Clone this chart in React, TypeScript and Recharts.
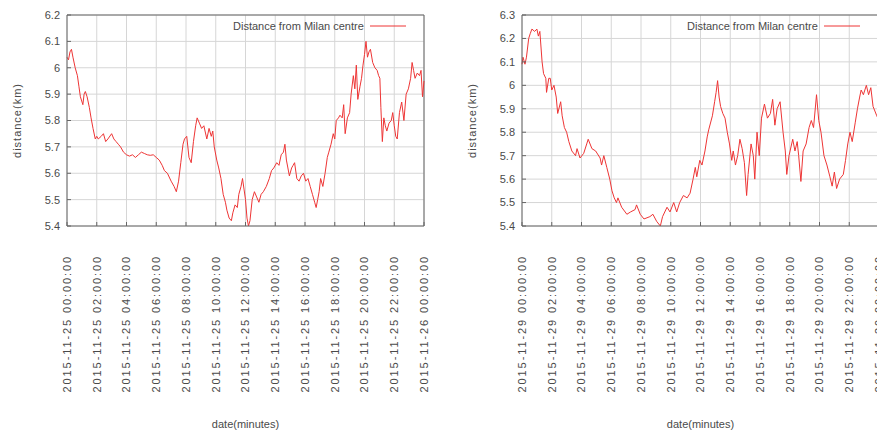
import React from "react";
import {
  LineChart,
  Line,
  XAxis,
  YAxis,
  CartesianGrid,
  Legend,
  ReferenceLine,
} from "recharts";

// minutes since midnight
const day25Minutes = [
  0, 6, 12, 18, 24, 33, 42, 48, 54, 64, 69, 74, 81, 90, 97, 105, 114, 120, 126, 138,
  147, 156, 165, 180, 189, 198, 207, 216, 228, 240, 252, 264, 276, 288, 300, 312, 324, 336, 348, 360,
  372, 384, 393, 405, 420, 432, 441, 450, 459, 468, 474, 483, 492, 501, 510, 519, 525, 534, 543, 552,
  564, 573, 582, 588, 594, 604, 612, 621, 630, 639, 645, 654, 663, 669, 678, 687, 693, 702, 708, 714,
  720, 726, 732, 738, 747, 756, 765, 774, 783, 792, 804, 816, 825, 834, 846, 855, 864, 873, 879, 885,
  891, 897, 906, 912, 918, 927, 936, 945, 954, 963, 972, 981, 990, 999, 1005, 1011, 1017, 1023, 1032, 1041,
  1050, 1056, 1065, 1074, 1080, 1086, 1095, 1101, 1110, 1116, 1122, 1131, 1140, 1146, 1155, 1161, 1167, 1173, 1182, 1188,
  1194, 1200, 1206, 1212, 1218, 1224, 1233, 1242, 1251, 1257, 1262, 1266, 1272, 1278, 1284, 1290, 1299, 1308, 1314, 1320,
  1326, 1332, 1341, 1350, 1359, 1368, 1377, 1386, 1392, 1398, 1404, 1413, 1422, 1428, 1434, 1440,
];
const day25Km = [
  6.04, 6.03, 6.06, 6.07, 6.04, 6.0, 5.97, 5.93, 5.89, 5.86, 5.9, 5.91, 5.89, 5.85, 5.81, 5.77, 5.73, 5.74, 5.73, 5.74,
  5.75, 5.72, 5.73, 5.75, 5.73, 5.72, 5.71, 5.7, 5.68, 5.67, 5.665, 5.67, 5.66, 5.67, 5.68, 5.675, 5.67, 5.668, 5.67, 5.66,
  5.65, 5.63, 5.61, 5.6, 5.57, 5.55, 5.53, 5.57, 5.64, 5.71, 5.73, 5.74, 5.66, 5.64, 5.72, 5.78, 5.81, 5.79, 5.77, 5.78,
  5.73, 5.77, 5.74, 5.76, 5.7, 5.65, 5.62, 5.58, 5.52, 5.49, 5.46, 5.43, 5.42, 5.45, 5.48, 5.47, 5.52, 5.55, 5.58, 5.54,
  5.5, 5.43, 5.4, 5.42, 5.5, 5.53, 5.51, 5.49, 5.52, 5.53, 5.55, 5.58, 5.61, 5.62, 5.64, 5.63, 5.67, 5.68, 5.71, 5.65,
  5.62, 5.59, 5.62, 5.63, 5.64, 5.58, 5.57, 5.59, 5.6, 5.57, 5.58, 5.55, 5.52, 5.49, 5.47, 5.5, 5.53, 5.58, 5.55, 5.6,
  5.66, 5.68, 5.71, 5.75, 5.73, 5.8, 5.81, 5.82, 5.81, 5.86, 5.75, 5.81, 5.83, 5.9, 5.97, 5.92, 6.01, 5.88, 5.93, 5.96,
  6.01, 6.05, 6.1, 6.04, 6.06, 6.07, 6.02, 6.0, 5.99, 5.97, 5.96, 5.85, 5.72, 5.81, 5.78, 5.76, 5.79, 5.8, 5.83, 5.78,
  5.74, 5.73, 5.83, 5.87, 5.8, 5.9, 5.92, 5.96, 6.02, 5.99, 5.96, 5.98, 5.97, 5.99, 5.89, 5.95,
];

const day29Minutes = [
  0, 4, 12, 18, 27, 33, 40, 51, 60, 66, 72, 81, 87, 96, 99, 108, 114, 120, 129, 138,
  144, 156, 162, 171, 180, 189, 201, 216, 222, 234, 249, 261, 267, 282, 297, 315, 321, 330, 342, 354,
  363, 372, 381, 387, 402, 423, 438, 456, 462, 477, 492, 516, 528, 543, 558, 567, 585, 597, 612, 624,
  636, 651, 666, 678, 690, 699, 705, 717, 726, 738, 747, 753, 768, 777, 783, 789, 795, 801, 810, 819,
  828, 837, 846, 852, 861, 870, 879, 888, 897, 906, 912, 924, 933, 939, 948, 957, 966, 978, 990, 1002,
  1011, 1020, 1029, 1041, 1053, 1062, 1068, 1077, 1092, 1101, 1110, 1116, 1125, 1134, 1146, 1158, 1167, 1176, 1188, 1197,
  1206, 1218, 1230, 1242, 1251, 1260, 1269, 1281, 1296, 1305, 1314, 1323, 1332, 1344, 1353, 1362, 1368, 1377, 1389, 1398,
  1407, 1416, 1431, 1440,
];
const day29Km = [
  6.09, 6.12, 6.09, 6.12, 6.2, 6.22, 6.24, 6.23, 6.24, 6.21, 6.23, 6.1, 6.05, 6.03, 5.97, 6.03, 6.03, 5.98, 6.0, 5.95,
  5.88, 5.93, 5.87, 5.82, 5.8, 5.76, 5.72, 5.7, 5.73, 5.69, 5.71, 5.75, 5.77, 5.73, 5.72, 5.69, 5.66, 5.7, 5.65, 5.6,
  5.55, 5.52, 5.5, 5.52, 5.48, 5.45, 5.46, 5.47, 5.49, 5.45, 5.43, 5.44, 5.45, 5.42, 5.4, 5.44, 5.48, 5.46, 5.5, 5.46,
  5.5, 5.53, 5.52, 5.54, 5.6, 5.65, 5.61, 5.68, 5.66, 5.72, 5.78, 5.81, 5.87, 5.93, 5.97, 6.02, 5.95, 5.91, 5.88, 5.86,
  5.8, 5.75, 5.68, 5.72, 5.66, 5.7, 5.77, 5.73, 5.67, 5.53, 5.62, 5.75, 5.7, 5.6, 5.8, 5.7, 5.86, 5.92, 5.86, 5.88,
  5.94, 5.83, 5.9, 5.93, 5.8, 5.72, 5.62, 5.7, 5.77, 5.72, 5.76, 5.7, 5.59, 5.72, 5.75, 5.82, 5.85, 5.82, 5.96, 5.85,
  5.8, 5.7, 5.66, 5.61, 5.57, 5.63, 5.56, 5.6, 5.62, 5.68, 5.75, 5.8, 5.76, 5.84, 5.9, 5.95, 5.98, 5.96, 6.0, 5.96,
  5.99, 5.91, 5.87, 5.85,
];

const hourTicks = [0, 120, 240, 360, 480, 600, 720, 840, 960, 1080, 1200, 1320, 1440];
const minorTicks = [
  0, 60, 120, 180, 240, 300, 360, 420, 480, 540, 600, 660, 720, 780, 840, 900, 960, 1020, 1080, 1140,
  1200, 1260, 1320, 1380, 1440,
];
const day25Labels = [
  "2015-11-25 00:00:00", "2015-11-25 02:00:00", "2015-11-25 04:00:00", "2015-11-25 06:00:00",
  "2015-11-25 08:00:00", "2015-11-25 10:00:00", "2015-11-25 12:00:00", "2015-11-25 14:00:00",
  "2015-11-25 16:00:00", "2015-11-25 18:00:00", "2015-11-25 20:00:00", "2015-11-25 22:00:00",
  "2015-11-26 00:00:00",
];
const day29Labels = [
  "2015-11-29 00:00:00", "2015-11-29 02:00:00", "2015-11-29 04:00:00", "2015-11-29 06:00:00",
  "2015-11-29 08:00:00", "2015-11-29 10:00:00", "2015-11-29 12:00:00", "2015-11-29 14:00:00",
  "2015-11-29 16:00:00", "2015-11-29 18:00:00", "2015-11-29 20:00:00", "2015-11-29 22:00:00",
  "2015-11-30 00:00:00",
];
const day25Ticks = [5.4, 5.5, 5.6, 5.7, 5.8, 5.9, 6, 6.1, 6.2];
const day29Ticks = [5.4, 5.5, 5.6, 5.7, 5.8, 5.9, 6, 6.1, 6.2, 6.3];

const FONT = "'Liberation Sans', Arial, sans-serif";
const TEXT = "#4a4a4a";
const RED = "#ee3535";
const BORDER = "#666";

function DateTick(props: any) {
  const { x, y, payload, labels } = props;
  const label = labels[hourTicks.indexOf(payload.value)];
  return (
    <text
      transform={`translate(${x},${y + 21}) rotate(-90)`}
      textAnchor="end"
      dy="0.35em"
      fontSize={11}
      letterSpacing={1.9}
      fill={TEXT}
      fontFamily={FONT}
    >
      {label}
    </text>
  );
}

function KeyBox() {
  return (
    <div style={{ display: "flex", alignItems: "center", fontFamily: FONT, fontSize: 11, color: TEXT }}>
      <span>Distance from Milan centre</span>
      <svg width={42} height={6} style={{ marginLeft: 6 }}>
        <line x1={0} y1={3} x2={36} y2={3} stroke={RED} strokeWidth={1} />
      </svg>
    </div>
  );
}

interface PanelProps {
  minutes: number[];
  km: number[];
  labels: string[];
  yTicks: number[];
  axisWidth: number;
  width: number;
  keyLeft: number;
}

function Panel({ minutes, km, labels, yTicks, axisWidth, width, keyLeft }: PanelProps) {
  const data = minutes.map((m, i) => ({ minute: m, km: km[i] }));
  const yMax = yTicks[yTicks.length - 1];
  return (
    <LineChart width={width} height={434} data={data} margin={{ top: 15, right: 18, bottom: 0, left: 0 }}>
      <CartesianGrid stroke="#d6d6d6" strokeWidth={1} />
      <XAxis
        dataKey="minute"
        type="number"
        domain={[0, 1440]}
        ticks={hourTicks}
        interval={0}
        height={208}
        tickLine={{ stroke: BORDER }}
        tickSize={-4}
        tickMargin={12}
        axisLine={{ stroke: BORDER }}
        tick={<DateTick labels={labels} />}
        label={{ value: "date(minutes)", position: "insideBottom", offset: 6, fontSize: 11, fill: TEXT, fontFamily: FONT }}
      />
      <XAxis
        xAxisId="top"
        orientation="top"
        type="number"
        domain={[0, 1440]}
        ticks={minorTicks}
        interval={0}
        height={0}
        tick={false}
        tickLine={{ stroke: BORDER }}
        tickSize={-3}
        axisLine={false}
      />
      <YAxis
        type="number"
        domain={[yTicks[0], yMax]}
        ticks={yTicks}
        interval={0}
        width={axisWidth}
        tickLine={{ stroke: BORDER }}
        tickSize={-4}
        tickMargin={11}
        axisLine={{ stroke: BORDER }}
        tick={{ fontSize: 11, fill: TEXT, fontFamily: FONT }}
        label={{
          value: "distance(km)",
          angle: -90,
          position: "insideLeft",
          offset: axisWidth - 50,
          fontSize: 11,
          fill: TEXT,
          fontFamily: FONT,
          letterSpacing: 1,
          style: { textAnchor: "middle" },
        }}
      />
      <YAxis
        yAxisId="right"
        orientation="right"
        type="number"
        domain={[yTicks[0], yMax]}
        ticks={yTicks}
        interval={0}
        width={0}
        tick={false}
        tickLine={{ stroke: BORDER }}
        tickSize={-4}
        axisLine={false}
      />
      <ReferenceLine y={yMax} stroke={BORDER} />
      <ReferenceLine x={1440} stroke={BORDER} />
      <Legend
        layout="horizontal"
        verticalAlign="middle"
        content={<KeyBox />}
        wrapperStyle={{ top: 20, left: keyLeft, width: "auto" }}
      />
      <Line
        type="linear"
        dataKey="km"
        stroke={RED}
        strokeWidth={1}
        dot={false}
        isAnimationActive={false}
      />
    </LineChart>
  );
}

export default function App() {
  return (
    <div style={{ position: "fixed", left: 0, top: 0, width: 877, height: 434, overflow: "hidden", background: "#fff" }}>
      <div style={{ position: "absolute", left: 0, top: 0 }}>
        <Panel
          minutes={day25Minutes}
          km={day25Km}
          labels={day25Labels}
          yTicks={day25Ticks}
          axisWidth={67}
          width={442}
          keyLeft={233}
        />
      </div>
      <div style={{ position: "absolute", left: 440, top: 0 }}>
        <Panel
          minutes={day29Minutes}
          km={day29Km}
          labels={day29Labels}
          yTicks={day29Ticks}
          axisWidth={82}
          width={457}
          keyLeft={247}
        />
      </div>
    </div>
  );
}
